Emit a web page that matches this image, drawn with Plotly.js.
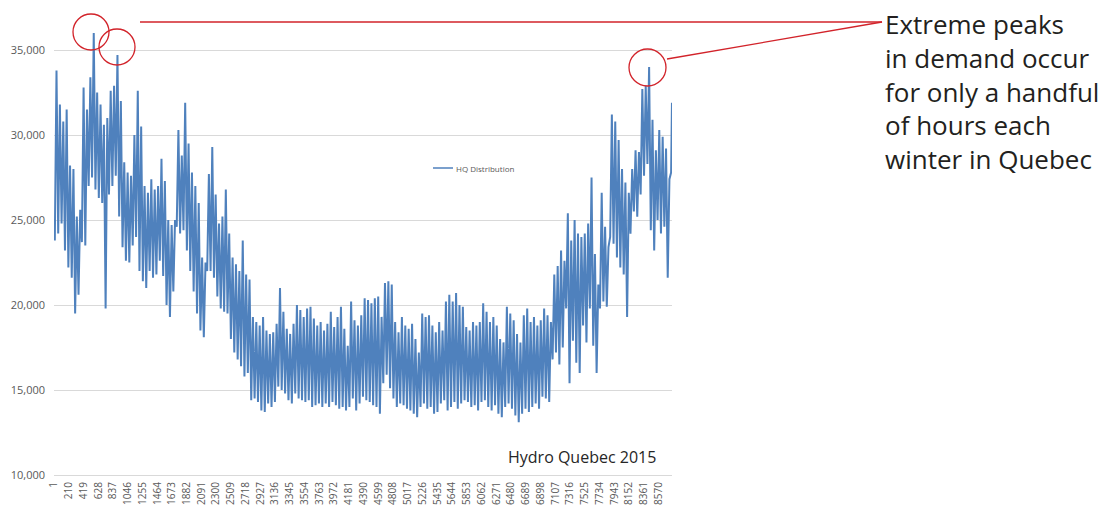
<!DOCTYPE html>
<html>
<head>
<meta charset="utf-8">
<script src="https://cdn.plot.ly/plotly-3.0.1.min.js"></script>
<style>
  html, body { margin: 0; padding: 0; background: #ffffff; }
  #chart { width: 1099px; height: 506px; }
</style>
</head>
<body>
<div id="chart"></div>
<script>
// Hourly demand (MW) of Hydro Québec 2015, read from the picture as the
// high and the low of each two-day period (period k covers hours 48k+1 .. 48k+48).
const periodHours = 48;
const highs = [
  33800,31800,30800,31500,28200,28000,25200,25600,32800,31500,
  33400,36000,32500,31800,30600,31000,32600,32900,34700,32000,
  28400,27800,27600,30000,32600,30500,27000,26600,27400,26800,
  27000,28600,27300,25000,24700,25000,30300,28800,31900,29500,
  27800,27000,26000,22800,22500,27700,29300,26500,24800,25200,
  26800,24200,22800,22400,22000,23800,21800,21500,19300,19000,
  18800,19300,18500,18300,18400,18900,21000,19600,18600,18300,
  18900,20000,19700,19300,19800,19900,19200,18800,19000,18500,
  18900,19600,18700,19300,19900,18600,17600,20200,19100,18800,
  19400,20400,20300,20100,20400,20500,19300,21300,21400,21200,
  19000,18400,19300,18800,18600,18900,18000,17200,19500,19300,
  19400,18800,18400,19000,18500,20200,20600,20200,20700,20000,
  19900,18700,18500,19000,18800,19000,20100,19600,19000,19300,
  18800,18000,17800,19900,19500,19100,18300,17800,19400,19800,
  19000,19300,18800,19100,19800,19400,19000,21800,22300,23200,
  22600,25400,23800,25000,24200,24000,24200,24800,27500,23000,
  21200,26600,24600,23400,31200,30800,29700,28000,27200,26600,
  28000,29100,29000,32700,32900,34000,30900,29100,30300,29900,
  29200,27400,31900
];
const lows = [
  23800,24200,24800,23200,22200,21600,19500,20600,23700,23500,
  27000,27500,26800,26300,26000,19800,26500,27000,27600,25200,
  23400,22600,22500,23500,24000,22000,21400,21000,22000,21600,
  21800,22600,21700,20000,19300,20800,24600,24200,24400,23200,
  22000,20800,19500,18500,18100,22000,22000,21600,20500,19800,
  19600,19500,18000,17200,16800,16400,15800,16000,14400,14500,
  14300,13800,13700,14200,14000,14300,15200,15000,14800,14400,
  14200,14800,14500,14400,14300,14400,14000,14100,14200,14000,
  14200,14000,14300,14100,13900,14000,13800,14000,14500,13800,
  14200,14600,14400,14300,14100,14000,13600,15400,15900,15100,
  14500,14000,14200,14100,13900,13800,13600,13400,14000,14200,
  13900,14000,13600,13700,14200,14400,13800,14000,14300,13900,
  14200,14400,14300,14000,14100,13800,14300,14400,14000,13800,
  14100,13600,13400,14000,14200,13900,13500,13100,13600,13900,
  13700,14000,14200,13900,14600,14500,14300,16800,17200,16500,
  17500,19800,15400,17900,16600,16000,18800,17800,19800,17600,
  16000,19800,20200,19900,24000,23600,22800,22200,21800,19300,
  24200,25500,25200,26500,27600,28300,24400,23200,25000,24200,
  24600,21600,27800
];
const totalHours = 8760;
const xTickLabels = ["1","210","419","628","837","1046","1255","1464","1673","1882","2091","2300","2509","2718","2927","3136","3345","3554","3763","3972","4181","4390","4599","4808","5017","5226","5435","5644","5853","6062","6271","6480","6689","6898","7107","7316","7525","7734","7943","8152","8361","8570"];
const yTickValues = [10000,15000,20000,25000,30000,35000];
const seriesName = "HQ Distribution";
const chartNote = "Hydro Quebec 2015";
const calloutLines = ["Extreme peaks","in demand occur","for only a handful","of hours each","winter in Quebec"];

// build the line: low then high of each period
const xs = [], ys = [];
for (let k = 0; k < highs.length; k++) {
  xs.push(Math.min(periodHours * k + 12, totalHours)); ys.push(lows[k]);
  xs.push(Math.min(periodHours * k + 36, totalHours)); ys.push(highs[k]);
}

// pixel helpers for the decorations (plot area 54..672 x, 4..475 y)
const L = 54, R = 672, T = 4, B = 475;
const px = v => (v - L) / (R - L);
const py = v => (B - v) / (B - T);
const red = '#d2232a';
const blue = '#4f81bd';
const grey = '#595959';

const shapes = [
  // white legend box hiding the gridline
  {type:'rect', xref:'paper', yref:'paper', x0:px(443), x1:px(581), y0:py(150), y1:py(125),
   fillcolor:'#ffffff', line:{width:0}, layer:'between'},
  // legend sample line
  {type:'line', xref:'paper', yref:'paper', x0:px(433), x1:px(453), y0:py(168), y1:py(168),
   line:{color:blue, width:1.5}},
  // circles
  {type:'circle', xref:'paper', yref:'paper', x0:px(73), x1:px(109), y0:py(50), y1:py(14), line:{color:red, width:1.3}},
  {type:'circle', xref:'paper', yref:'paper', x0:px(99), x1:px(135), y0:py(65), y1:py(29), line:{color:red, width:1.3}},
  {type:'circle', xref:'paper', yref:'paper', x0:px(629), x1:px(666), y0:py(86), y1:py(49), line:{color:red, width:1.3}},
  // callout lines
  {type:'line', xref:'paper', yref:'paper', x0:px(140), x1:px(882), y0:py(22), y1:py(22), line:{color:red, width:1.3}},
  {type:'line', xref:'paper', yref:'paper', x0:px(667), x1:px(882), y0:py(59), y1:py(22), line:{color:red, width:1.3}}
];

const annotations = [
  {xref:'paper', yref:'paper', x:px(454), y:py(168), xanchor:'left', yanchor:'middle', showarrow:false,
   text:seriesName, font:{family:'Open Sans, sans-serif', size:8, color:grey}},
  {xref:'paper', yref:'paper', x:px(506), y:py(457), xanchor:'left', yanchor:'middle', showarrow:false,
   text:chartNote, font:{family:'Open Sans, sans-serif', size:16, color:'#262626'}},
  {xref:'paper', yref:'paper', x:px(883), y:py(4), xanchor:'left', yanchor:'top', align:'left', showarrow:false,
   text:calloutLines.join('<br>'), font:{family:'Open Sans, sans-serif', size:26, color:'#231f20'}}
];

const trace = {
  type:'scatter', mode:'lines', name:seriesName, x:xs, y:ys,
  line:{color:blue, width:2}, hoverinfo:'x+y', showlegend:false
};

const layout = {
  width:1099, height:506,
  margin:{l:L, r:1099-R, t:T, b:506-B},
  paper_bgcolor:'#ffffff', plot_bgcolor:'#ffffff',
  showlegend:false,
  xaxis:{
    range:[0.5, totalHours + 0.5],
    tickmode:'array',
    tickvals:xTickLabels.map(Number),
    ticktext:xTickLabels,
    tickangle:-90,
    tickfont:{family:'Open Sans, sans-serif', size:10, color:grey},
    showgrid:false, zeroline:false,
    showline:true, linecolor:'#d9d9d9', linewidth:1,
    ticks:'', ticklabelstandoff:2
  },
  yaxis:{
    range:[10000, 37706],
    tickmode:'array',
    tickvals:yTickValues,
    ticktext:yTickValues.map(v => v.toLocaleString('en-US')),
    tickfont:{family:'Open Sans, sans-serif', size:11, color:grey},
    showgrid:true, gridcolor:'#d9d9d9', gridwidth:1,
    zeroline:false, showline:false, ticks:'', ticklabelstandoff:8
  },
  shapes:shapes,
  annotations:annotations
};

Plotly.newPlot('chart', [trace], layout, {displayModeBar:false, staticPlot:true});
</script>
</body>
</html>
